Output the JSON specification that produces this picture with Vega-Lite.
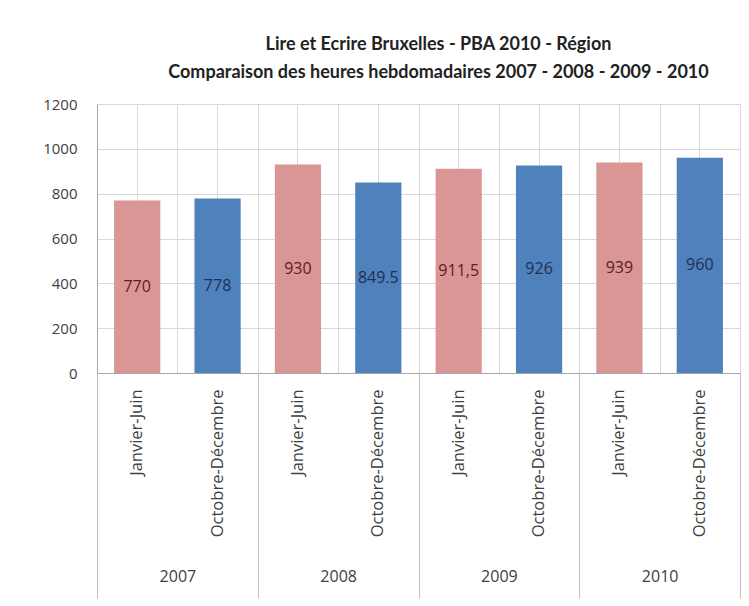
{
  "$schema": "https://vega.github.io/schema/vega-lite/v6.json",
  "width": 643,
  "height": 269,
  "autosize": {"type": "none"},
  "padding": {"left": 97, "top": 104, "right": 9, "bottom": 233},
  "background": "white",
  "title": {
    "text": ["Lire et Ecrire Bruxelles - PBA 2010 - Région", "Comparaison des heures hebdomadaires 2007 - 2008 - 2009 - 2010"],
    "font": "Lato",
    "fontSize": 18,
    "fontWeight": "bold",
    "color": "#222222",
    "lineHeight": 28,
    "offset": 15,
    "anchor": "middle",
    "dx": 20
  },
  "data": {
    "values": [
      {"year": "2007", "period": "Janvier-Juin", "key": "2007|Janvier-Juin", "value": 770, "label": "770"},
      {"year": "2007", "period": "Octobre-Décembre", "key": "2007|Octobre-Décembre", "value": 778, "label": "778"},
      {"year": "2008", "period": "Janvier-Juin", "key": "2008|Janvier-Juin", "value": 930, "label": "930"},
      {"year": "2008", "period": "Octobre-Décembre", "key": "2008|Octobre-Décembre", "value": 849.5, "label": "849.5"},
      {"year": "2009", "period": "Janvier-Juin", "key": "2009|Janvier-Juin", "value": 911.5, "label": "911,5"},
      {"year": "2009", "period": "Octobre-Décembre", "key": "2009|Octobre-Décembre", "value": 926, "label": "926"},
      {"year": "2010", "period": "Janvier-Juin", "key": "2010|Janvier-Juin", "value": 939, "label": "939"},
      {"year": "2010", "period": "Octobre-Décembre", "key": "2010|Octobre-Décembre", "value": 960, "label": "960"}
    ]
  },
  "config": {
    "view": {"stroke": null},
    "axis": {
      "labelFont": "Open Sans",
      "labelColor": "#404040",
      "gridColor": "#d9d9d9",
      "domainColor": "#a6a6a6",
      "tickColor": "#a6a6a6"
    }
  },
  "layer": [
    {
      "mark": {"type": "bar", "width": {"band": 0.575}},
      "encoding": {
        "x": {
          "field": "key", "type": "nominal", "sort": null,
          "scale": {"paddingInner": 0, "paddingOuter": 0},
          "axis": {"orient": "bottom", "title": null, "labels": false, "ticks": false, "domain": false, "grid": true, "tickBand": "extent"}
        },
        "y": {
          "field": "value", "type": "quantitative",
          "scale": {"domain": [0, 1200], "nice": false},
          "axis": {"title": null, "values": [0, 200, 400, 600, 800, 1000, 1200], "format": "d", "grid": true, "ticks": false, "domain": true, "labelPadding": 20, "labelFontSize": 15}
        },
        "color": {
          "field": "period", "type": "nominal",
          "scale": {"domain": ["Janvier-Juin", "Octobre-Décembre"], "range": ["#d99694", "#4f81bd"]},
          "legend": null
        }
      }
    },
    {
      "mark": {"type": "text", "font": "Open Sans", "fontSize": 16, "baseline": "middle", "align": "center"},
      "encoding": {
        "x": {
          "field": "key", "type": "nominal", "sort": null,
          "scale": {"paddingInner": 0, "paddingOuter": 0},
          "axis": {"orient": "bottom", "title": null, "labelAngle": 270, "labelExpr": "split(datum.label, '|')[1]", "ticks": false, "domain": true, "grid": true, "tickBand": "center", "labelPadding": 16, "labelFontSize": 16.5}
        },
        "y": {"field": "value", "type": "quantitative", "scale": {"domain": [0, 2400], "nice": false}, "axis": null},
        "text": {"field": "label"},
        "color": {"condition": {"test": "datum.period === 'Janvier-Juin'", "value": "#5c2020"}, "value": "#1f3050"}
      }
    },
    {
      "mark": {"type": "point", "opacity": 0},
      "encoding": {
        "x": {
          "field": "year", "type": "nominal",
          "scale": {"paddingInner": 0, "paddingOuter": 0},
          "axis": {"orient": "bottom", "title": null, "tickBand": "extent", "tickSize": 225, "labelPadding": -30, "labelBaseline": "top", "domain": false, "grid": false, "labelAngle": 0, "labelFontSize": 16, "tickColor": "#bfbfbf"}
        },
        "y": {"field": "value", "type": "quantitative", "axis": null}
      }
    }
  ],
  "resolve": {
    "scale": {"x": "independent", "y": "independent"},
    "axis": {"x": "independent", "y": "independent"}
  }
}
